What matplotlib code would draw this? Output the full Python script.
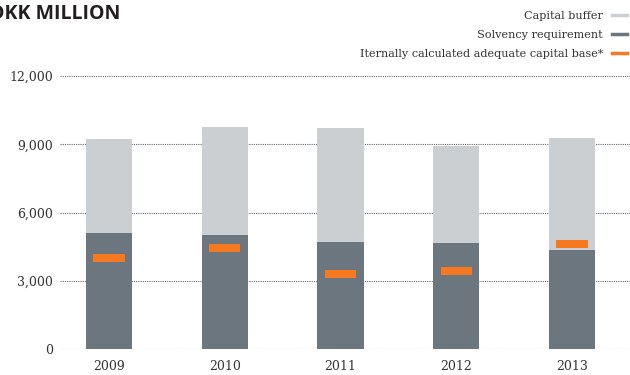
import matplotlib.pyplot as plt
from matplotlib.lines import Line2D

years = ["2009", "2010", "2011", "2012", "2013"]
solvency = [5100, 5020, 4710, 4670, 4360]
buffer = [4130, 4740, 5000, 4270, 4920]
internal = [4020, 4460, 3320, 3450, 4630]
yticks = [0, 3000, 6000, 9000, 12000]

c_buffer = "#cbcfd2"
c_solv = "#6c767e"
c_int = "#f47920"
serif = "DejaVu Serif"

fig = plt.figure(figsize=(6.3, 3.75), dpi=100)
ax = fig.add_axes([0.0952, 0.0685, 0.9048, 0.7285])

x = range(len(years))
ax.bar(x, solvency, width=0.4, color=c_solv, zorder=2)
ax.bar(x, buffer, width=0.4, bottom=solvency, color=c_buffer, zorder=2)
mh = 340
ax.bar(x, [mh] * len(x), width=0.27, bottom=[v - mh / 2 for v in internal],
       color=c_int, zorder=3)

ax.set_xlim(-0.423, 4.5)
ax.set_ylim(0, 12000)
ax.set_yticks(yticks)
ax.set_yticklabels([f"{v:,}" for v in yticks], family=serif, fontsize=9, color="#333333")
ax.set_xticks(list(x))
ax.set_xticklabels(years, family=serif, fontsize=9, color="#333333")
ax.tick_params(length=0)
ax.tick_params(axis="y", pad=5)
ax.tick_params(axis="x", pad=8)
for s in ax.spines.values():
    s.set_visible(False)
ax.yaxis.grid(True, linestyle=(0, (1, 1)), color="#666666", linewidth=0.8, zorder=0)
ax.set_axisbelow(True)

fig.text(-0.016, 0.963, "DKK MILLION", fontsize=14, fontweight="bold",
         family="Open Sans", color="#231f20", va="center")

handles = [Line2D([], [], color=c, lw=2.5) for c in (c_buffer, c_solv, c_int)]
labels = ["Capital buffer", "Solvency requirement",
          "Iternally calculated adequate capital base*"]
leg = fig.legend(handles, labels, loc="upper right", bbox_to_anchor=(1.0, 0.979),
                 frameon=False, markerfirst=False, handlelength=1.35,
                 handletextpad=0.8, labelspacing=0.8, borderpad=0,
                 borderaxespad=0.25, prop={"family": serif, "size": 8.1})
for t in leg.get_texts():
    t.set_color("#333333")

fig.savefig("out.png", dpi=100)
